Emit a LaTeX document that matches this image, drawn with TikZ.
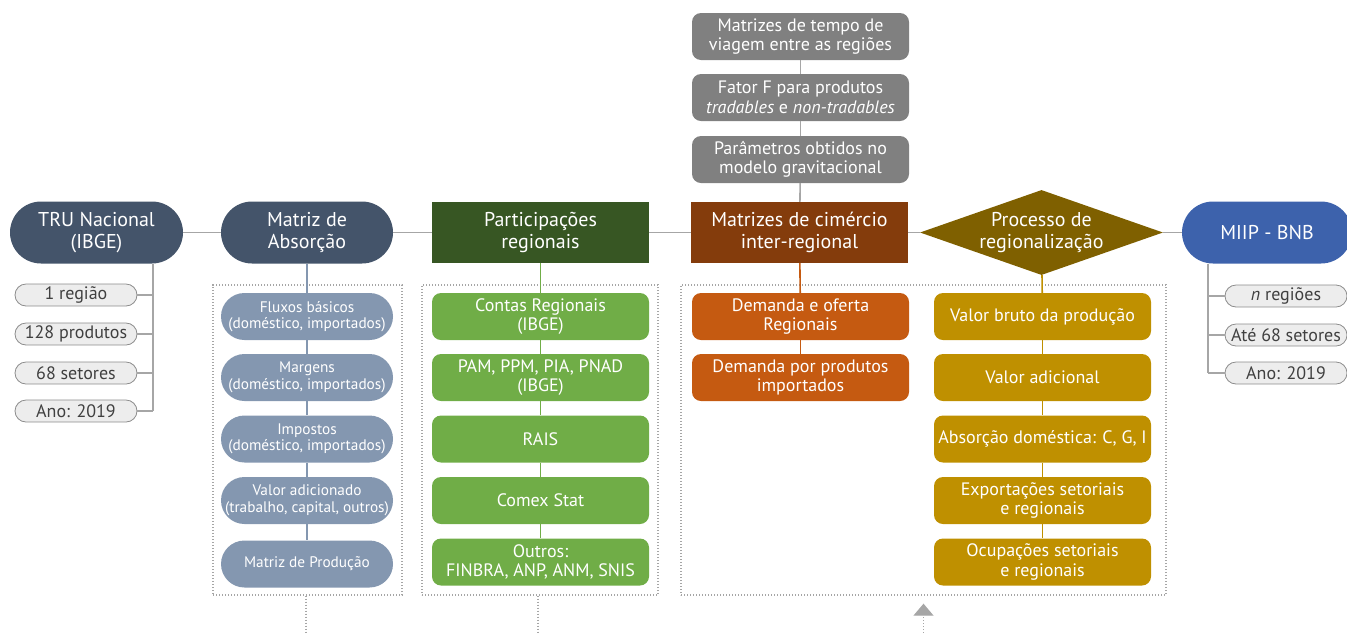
\documentclass[tikz,border=0pt]{standalone}
\usepackage{fontspec}
\setmainfont{PT Sans}
\usetikzlibrary{shapes.geometric,arrows.meta}

\definecolor{slate}{HTML}{44546A}
\definecolor{slatelight}{HTML}{8497B0}
\definecolor{greendark}{HTML}{375623}
\definecolor{greenlight}{HTML}{70AD47}
\definecolor{browndark}{HTML}{843C0C}
\definecolor{orangelight}{HTML}{C55A11}
\definecolor{golddark}{HTML}{7F6000}
\definecolor{goldlight}{HTML}{BF9000}
\definecolor{greybox}{HTML}{808080}
\definecolor{bnbblue}{HTML}{3D62AC}
\definecolor{pillfill}{HTML}{EDEDED}
\definecolor{pillline}{HTML}{8C8C8C}
\definecolor{linkgray}{HTML}{A6A6A6}
\definecolor{tagtext}{HTML}{404040}

\tikzset{
  headpill/.style={rounded corners=31pt, minimum height=62pt, text=white, align=center, inner sep=0pt, font=\fontsize{20}{22}\selectfont},
  headbox/.style={minimum width=217pt, minimum height=61pt, text=white, align=center, inner sep=0pt, font=\fontsize{20}{22}\selectfont},
  item/.style={rounded corners=9pt, minimum width=217pt, minimum height=47pt, text=white, align=center, inner sep=0pt, font=\fontsize{18}{19.5}\selectfont},
  slateitem/.style={rounded corners=23.5pt, minimum width=172pt, minimum height=47pt, fill=slatelight, text=white, align=center, inner sep=0pt, font=\fontsize{15.3}{16.5}\selectfont},
  tag/.style={rounded corners=11pt, minimum height=22pt, fill=pillfill, draw=pillline, line width=0.8pt, text=tagtext, inner sep=0pt, font=\fontsize{18}{19}\selectfont},
  link/.style={draw=linkgray, line width=1.6pt},
  dotbox/.style={draw=linkgray, line width=1.3pt, dash pattern=on 1.3pt off 1.7pt, inner sep=0pt},
}

\begin{document}
\begin{tikzpicture}[x=1pt,y=-1pt]
        \useasboundingbox (0,0) rectangle (1347,633);
        %% top row
        \node[headpill, fill=slate, minimum width=173pt] (tru) at (96.5,232.5) {TRU Nacional\\(IBGE)};
        \node[headpill, fill=slate, minimum width=172pt] (abs) at (307,232.5) {Matriz de\\Absorção};
        \node[headbox, fill=greendark] (part) at (540.5,232.5) {Participações\\regionais};
        \node[headbox, fill=browndark] (cim) at (799.5,232.5) {Matrizes de cimércio\\inter-regional};
        \node[diamond, fill=golddark, minimum width=243pt, minimum height=85pt, inner sep=0pt] (proc) at (1041.5,232.5) {};
        \node[text=white, align=center, font=\fontsize{20}{22}\selectfont] at (proc) {Processo de\\regionalização};
        \node[headpill, fill=bnbblue, minimum width=170pt] (miip) at (1267,232.5) {MIIP - BNB};
        \draw[link] (tru) -- (abs);
        \draw[link] (abs) -- (part);
        \draw[link] (part) -- (cim);
        \draw[link] (cim) -- (proc);
        \draw[link] (proc) -- (miip);

        %% gray inputs above
        \node[item, fill=greybox] (g1) at (800.5,36.5) {Matrizes de tempo de\\viagem entre as regiões};
        \node[item, fill=greybox] (g2) at (800.5,97.5) {Fator F para produtos\\\textit{tradables} e \textit{non-tradables}};
        \node[item, fill=greybox] (g3) at (800.5,159.5) {Parâmetros obtidos no\\modelo gravitacional};
        \draw[link] (g1) -- (g2);
        \draw[link] (g2) -- (g3);
        \draw[link] (g3) -- (cim);

        %% TRU tags
        \node[tag, minimum width=122pt] (l1) at (76,295) {1 região};
        \node[tag, minimum width=122pt] (l2) at (76,334) {128 produtos};
        \node[tag, minimum width=122pt] (l3) at (76,373) {68 setores};
        \node[tag, minimum width=122pt] (l4) at (76,411) {Ano: 2019};
        \coordinate (ltop) at ([xshift=-30pt]tru.south east);
        \draw[link] (ltop) -- (ltop |- l4);
        \foreach \t in {l1,l2,l3,l4}
          \draw[link] (\t.east) -- (ltop |- \t);

        %% MIIP tags
        \node[tag, minimum width=122pt] (r1) at (1286,296) {\textit{n} regiões};
        \node[tag, minimum width=122pt] (r2) at (1286,335) {Até 68 setores};
        \node[tag, minimum width=122pt] (r3) at (1286,373) {Ano: 2019};
        \coordinate (rtop) at ([xshift=26pt]miip.south west);
        \draw[link] (rtop) -- (rtop |- r3);
        \foreach \t in {r1,r2,r3}
          \draw[link] (\t.west) -- (rtop |- \t);

        %% dotted groups
        \node[dotbox, minimum width=189pt, minimum height=310pt] (box1) at (307.5,440) {};
        \node[dotbox, minimum width=236pt, minimum height=310pt] (box2) at (540,440) {};
        \node[dotbox, minimum width=485pt, minimum height=310pt] (box3) at (923.5,440) {};
        \coordinate (d1) at (306,633);
        \coordinate (d2) at (538,633);
        \coordinate (d3) at (923.5,633);
        \draw[dotbox] (box1.south -| d1) -- (d1);
        \draw[dotbox] (box2.south -| d2) -- (d2);
        \draw[dotbox, -{Triangle[width=20pt,length=12pt,fill=linkgray]}] (d3) -- ([yshift=-8pt]box3.south);

        %% Matriz de Absorcao
        \node[slateitem] (a1) at (307,316.5) {Fluxos básicos\\(doméstico, importados)};
        \node[slateitem] (a2) at (307,377.5) {Margens\\(doméstico, importados)};
        \node[slateitem] (a3) at (307,439) {Impostos\\(doméstico, importados)};
        \node[slateitem] (a4) at (307,500.5) {Valor adicionado\\(trabalho, capital, outros)};
        \node[slateitem] (a5) at (307,564) {Matriz de Produção};
        \draw[link, draw=slatelight] (abs) -- (a1);
        \foreach \u/\v in {a1/a2,a2/a3,a3/a4,a4/a5}
          \draw[link, draw=slatelight] (\u) -- (\v);

        %% Participacoes regionais
        \node[item, fill=greenlight] (p1) at (540.5,316.5) {Contas Regionais\\(IBGE)};
        \node[item, fill=greenlight] (p2) at (540.5,377.5) {PAM, PPM, PIA, PNAD\\(IBGE)};
        \node[item, fill=greenlight] (p3) at (540.5,439) {RAIS};
        \node[item, fill=greenlight] (p4) at (540.5,500.5) {Comex Stat};
        \node[item, fill=greenlight] (p5) at (540.5,562) {Outros:\\FINBRA, ANP, ANM, SNIS};
        \draw[link, draw=greenlight] (part) -- (p1);
        \foreach \u/\v in {p1/p2,p2/p3,p3/p4,p4/p5}
          \draw[link, draw=greenlight] (\u) -- (\v);

        %% comercio inter-regional
        \node[item, fill=orangelight] (o1) at (800.5,316.5) {Demanda e oferta\\Regionais};
        \node[item, fill=orangelight] (o2) at (800.5,377.5) {Demanda por produtos\\importados};
        \draw[link, draw=orangelight] (cim) -- (o1);
        \draw[link, draw=orangelight] (o1) -- (o2);

        %% regionalizacao
        \node[item, fill=goldlight] (v1) at (1042.5,316.5) {Valor bruto da produção};
        \node[item, fill=goldlight] (v2) at (1042.5,377.5) {Valor adicional};
        \node[item, fill=goldlight] (v3) at (1042.5,439) {Absorção doméstica: C, G, I};
        \node[item, fill=goldlight] (v4) at (1042.5,500.5) {Exportações setoriais\\e regionais};
        \node[item, fill=goldlight] (v5) at (1042.5,562) {Ocupações setoriais\\e regionais};
        \draw[link, draw=goldlight] (proc) -- (v1);
        \foreach \u/\v in {v1/v2,v2/v3,v3/v4,v4/v5}
          \draw[link, draw=goldlight] (\u) -- (\v);
\end{tikzpicture}
\end{document}
